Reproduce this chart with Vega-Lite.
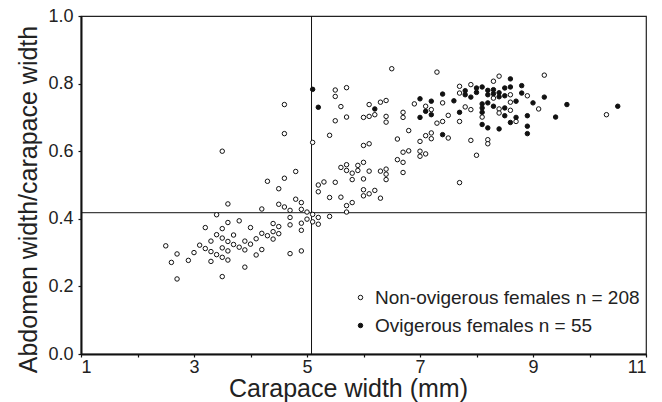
{
  "$schema": "https://vega.github.io/schema/vega-lite/v6.json",
  "width": 565,
  "height": 338,
  "autosize": {"type": "none"},
  "padding": {"left": 81, "top": 16, "right": 16, "bottom": 48},
  "background": "white",
  "config": {
    "font": "Liberation Sans",
    "view": {"stroke": "#222", "strokeWidth": 1.2},
    "axis": {
      "domainColor": "#111", "domainWidth": 2, "tickColor": "#111", "tickWidth": 1.2, "tickSize": 3,
      "labelColor": "#222", "labelFontSize": 18, "titleColor": "#222", "titleFontSize": 25,
      "titleFontWeight": "normal", "grid": false
    }
  },
  "datasets": {
    "pts": [
      {"cw":2.5,"r":0.320,"g":"N"},{"cw":2.6,"r":0.271,"g":"N"},{"cw":2.7,"r":0.296,"g":"N"},{"cw":2.7,"r":0.222,"g":"N"},
      {"cw":2.9,"r":0.277,"g":"N"},{"cw":3.0,"r":0.300,"g":"N"},{"cw":3.1,"r":0.322,"g":"N"},{"cw":3.2,"r":0.374,"g":"N"},
      {"cw":3.2,"r":0.312,"g":"N"},{"cw":3.3,"r":0.334,"g":"N"},{"cw":3.3,"r":0.303,"g":"N"},{"cw":3.3,"r":0.274,"g":"N"},
      {"cw":3.4,"r":0.412,"g":"N"},{"cw":3.4,"r":0.353,"g":"N"},{"cw":3.4,"r":0.294,"g":"N"},{"cw":3.5,"r":0.371,"g":"N"},
      {"cw":3.5,"r":0.343,"g":"N"},{"cw":3.5,"r":0.314,"g":"N"},{"cw":3.5,"r":0.286,"g":"N"},{"cw":3.5,"r":0.229,"g":"N"},
      {"cw":3.6,"r":0.444,"g":"N"},{"cw":3.6,"r":0.389,"g":"N"},{"cw":3.6,"r":0.333,"g":"N"},{"cw":3.6,"r":0.305,"g":"N"},
      {"cw":3.6,"r":0.278,"g":"N"},{"cw":3.7,"r":0.352,"g":"N"},{"cw":3.7,"r":0.324,"g":"N"},{"cw":3.8,"r":0.394,"g":"N"},
      {"cw":3.8,"r":0.316,"g":"N"},{"cw":3.9,"r":0.334,"g":"N"},{"cw":3.9,"r":0.308,"g":"N"},{"cw":3.9,"r":0.257,"g":"N"},
      {"cw":4.0,"r":0.374,"g":"N"},{"cw":4.0,"r":0.325,"g":"N"},{"cw":4.1,"r":0.341,"g":"N"},{"cw":4.1,"r":0.293,"g":"N"},
      {"cw":4.2,"r":0.429,"g":"N"},{"cw":4.2,"r":0.357,"g":"N"},{"cw":4.2,"r":0.309,"g":"N"},{"cw":4.3,"r":0.511,"g":"N"},
      {"cw":4.3,"r":0.350,"g":"N"},{"cw":4.4,"r":0.386,"g":"N"},{"cw":4.4,"r":0.362,"g":"N"},{"cw":4.4,"r":0.340,"g":"N"},
      {"cw":4.5,"r":0.489,"g":"N"},{"cw":4.5,"r":0.443,"g":"N"},{"cw":4.5,"r":0.377,"g":"N"},{"cw":4.5,"r":0.356,"g":"N"},
      {"cw":4.6,"r":0.435,"g":"N"},{"cw":4.7,"r":0.425,"g":"N"},{"cw":4.7,"r":0.404,"g":"N"},{"cw":4.7,"r":0.382,"g":"N"},
      {"cw":4.7,"r":0.297,"g":"N"},{"cw":4.8,"r":0.458,"g":"N"},{"cw":4.9,"r":0.448,"g":"N"},{"cw":4.9,"r":0.428,"g":"N"},
      {"cw":4.9,"r":0.387,"g":"N"},{"cw":4.9,"r":0.366,"g":"N"},{"cw":4.9,"r":0.305,"g":"N"},{"cw":5.0,"r":0.420,"g":"N"},
      {"cw":5.0,"r":0.399,"g":"N"},{"cw":5.1,"r":0.413,"g":"N"},{"cw":5.1,"r":0.391,"g":"N"},{"cw":5.2,"r":0.404,"g":"N"},
      {"cw":5.2,"r":0.384,"g":"N"},{"cw":5.2,"r":0.500,"g":"N"},{"cw":5.2,"r":0.480,"g":"N"},{"cw":5.3,"r":0.509,"g":"N"},
      {"cw":5.4,"r":0.463,"g":"N"},{"cw":5.4,"r":0.407,"g":"N"},{"cw":5.5,"r":0.508,"g":"N"},{"cw":5.6,"r":0.464,"g":"N"},
      {"cw":5.7,"r":0.439,"g":"N"},{"cw":5.7,"r":0.420,"g":"N"},{"cw":5.8,"r":0.448,"g":"N"},{"cw":5.8,"r":0.516,"g":"N"},
      {"cw":3.5,"r":0.600,"g":"N"},{"cw":4.6,"r":0.738,"g":"N"},{"cw":4.6,"r":0.652,"g":"N"},{"cw":5.5,"r":0.781,"g":"N"},
      {"cw":5.5,"r":0.762,"g":"N"},{"cw":5.7,"r":0.788,"g":"N"},{"cw":5.6,"r":0.732,"g":"N"},{"cw":5.7,"r":0.701,"g":"N"},
      {"cw":5.5,"r":0.690,"g":"N"},{"cw":5.4,"r":0.647,"g":"N"},{"cw":5.1,"r":0.626,"g":"N"},{"cw":4.6,"r":0.520,"g":"N"},
      {"cw":4.8,"r":0.540,"g":"N"},{"cw":5.6,"r":0.552,"g":"N"},{"cw":5.7,"r":0.560,"g":"N"},{"cw":5.7,"r":0.543,"g":"N"},
      {"cw":5.8,"r":0.535,"g":"N"},{"cw":5.9,"r":0.558,"g":"N"},{"cw":5.9,"r":0.543,"g":"N"},{"cw":6.1,"r":0.738,"g":"N"},
      {"cw":6.3,"r":0.745,"g":"N"},{"cw":6.4,"r":0.750,"g":"N"},{"cw":6.2,"r":0.708,"g":"N"},{"cw":6.1,"r":0.703,"g":"N"},
      {"cw":6.0,"r":0.700,"g":"N"},{"cw":6.4,"r":0.703,"g":"N"},{"cw":6.4,"r":0.686,"g":"N"},{"cw":6.7,"r":0.715,"g":"N"},
      {"cw":6.7,"r":0.700,"g":"N"},{"cw":6.8,"r":0.661,"g":"N"},{"cw":6.0,"r":0.617,"g":"N"},{"cw":6.1,"r":0.622,"g":"N"},
      {"cw":6.6,"r":0.636,"g":"N"},{"cw":6.7,"r":0.597,"g":"N"},{"cw":6.8,"r":0.601,"g":"N"},{"cw":6.6,"r":0.575,"g":"N"},
      {"cw":6.7,"r":0.567,"g":"N"},{"cw":6.7,"r":0.537,"g":"N"},{"cw":6.0,"r":0.567,"g":"N"},{"cw":6.1,"r":0.541,"g":"N"},
      {"cw":6.0,"r":0.518,"g":"N"},{"cw":6.3,"r":0.541,"g":"N"},{"cw":6.4,"r":0.547,"g":"N"},{"cw":6.4,"r":0.532,"g":"N"},
      {"cw":6.4,"r":0.516,"g":"N"},{"cw":6.0,"r":0.486,"g":"N"},{"cw":6.1,"r":0.474,"g":"N"},{"cw":6.2,"r":0.484,"g":"N"},
      {"cw":6.0,"r":0.468,"g":"N"},{"cw":6.3,"r":0.461,"g":"N"},{"cw":6.5,"r":0.844,"g":"N"},{"cw":6.9,"r":0.740,"g":"N"},
      {"cw":7.1,"r":0.733,"g":"N"},{"cw":7.2,"r":0.723,"g":"N"},{"cw":7.3,"r":0.834,"g":"N"},{"cw":7.4,"r":0.743,"g":"N"},
      {"cw":7.5,"r":0.706,"g":"N"},{"cw":7.4,"r":0.688,"g":"N"},{"cw":7.3,"r":0.683,"g":"N"},{"cw":7.1,"r":0.646,"g":"N"},
      {"cw":7.2,"r":0.654,"g":"N"},{"cw":7.2,"r":0.637,"g":"N"},{"cw":7.5,"r":0.639,"g":"N"},{"cw":7.0,"r":0.629,"g":"N"},
      {"cw":7.7,"r":0.792,"g":"N"},{"cw":7.7,"r":0.772,"g":"N"},{"cw":7.7,"r":0.688,"g":"N"},{"cw":7.8,"r":0.731,"g":"N"},
      {"cw":7.9,"r":0.797,"g":"N"},{"cw":7.9,"r":0.723,"g":"N"},{"cw":7.9,"r":0.632,"g":"N"},{"cw":8.1,"r":0.701,"g":"N"},
      {"cw":8.2,"r":0.634,"g":"N"},{"cw":8.2,"r":0.622,"g":"N"},{"cw":8.3,"r":0.807,"g":"N"},{"cw":8.3,"r":0.757,"g":"N"},
      {"cw":8.4,"r":0.822,"g":"N"},{"cw":8.4,"r":0.725,"g":"N"},{"cw":8.4,"r":0.713,"g":"N"},{"cw":9.2,"r":0.825,"g":"N"},
      {"cw":8.6,"r":0.767,"g":"N"},{"cw":8.9,"r":0.764,"g":"N"},{"cw":8.6,"r":0.745,"g":"N"},{"cw":8.6,"r":0.721,"g":"N"},
      {"cw":9.1,"r":0.725,"g":"N"},{"cw":8.7,"r":0.688,"g":"N"},{"cw":7.0,"r":0.600,"g":"N"},{"cw":7.0,"r":0.585,"g":"N"},
      {"cw":7.1,"r":0.592,"g":"N"},{"cw":8.0,"r":0.588,"g":"N"},{"cw":7.7,"r":0.507,"g":"N"},{"cw":10.3,"r":0.708,"g":"N"},
      {"cw":5.1,"r":0.783,"g":"O"},{"cw":5.2,"r":0.730,"g":"O"},{"cw":6.2,"r":0.725,"g":"O"},{"cw":7.0,"r":0.755,"g":"O"},
      {"cw":7.0,"r":0.700,"g":"O"},{"cw":7.1,"r":0.718,"g":"O"},{"cw":7.2,"r":0.748,"g":"O"},{"cw":7.2,"r":0.708,"g":"O"},
      {"cw":7.4,"r":0.769,"g":"O"},{"cw":7.4,"r":0.649,"g":"O"},{"cw":7.6,"r":0.749,"g":"O"},{"cw":7.7,"r":0.715,"g":"O"},
      {"cw":7.8,"r":0.779,"g":"O"},{"cw":7.8,"r":0.767,"g":"O"},{"cw":7.9,"r":0.760,"g":"O"},{"cw":8.0,"r":0.787,"g":"O"},
      {"cw":8.0,"r":0.774,"g":"O"},{"cw":8.1,"r":0.790,"g":"O"},{"cw":8.1,"r":0.740,"g":"O"},{"cw":8.1,"r":0.728,"g":"O"},
      {"cw":8.1,"r":0.715,"g":"O"},{"cw":8.1,"r":0.679,"g":"O"},{"cw":8.2,"r":0.780,"g":"O"},{"cw":8.2,"r":0.767,"g":"O"},
      {"cw":8.2,"r":0.743,"g":"O"},{"cw":8.2,"r":0.669,"g":"O"},{"cw":8.3,"r":0.782,"g":"O"},{"cw":8.3,"r":0.770,"g":"O"},
      {"cw":8.3,"r":0.733,"g":"O"},{"cw":8.4,"r":0.773,"g":"O"},{"cw":8.4,"r":0.761,"g":"O"},{"cw":8.4,"r":0.666,"g":"O"},
      {"cw":8.5,"r":0.787,"g":"O"},{"cw":8.5,"r":0.764,"g":"O"},{"cw":8.5,"r":0.728,"g":"O"},{"cw":8.5,"r":0.705,"g":"O"},
      {"cw":8.6,"r":0.814,"g":"O"},{"cw":8.6,"r":0.790,"g":"O"},{"cw":8.6,"r":0.685,"g":"O"},{"cw":8.7,"r":0.748,"g":"O"},
      {"cw":8.7,"r":0.700,"g":"O"},{"cw":8.8,"r":0.794,"g":"O"},{"cw":8.8,"r":0.772,"g":"O"},{"cw":8.9,"r":0.705,"g":"O"},
      {"cw":8.9,"r":0.674,"g":"O"},{"cw":8.9,"r":0.652,"g":"O"},{"cw":9.0,"r":0.743,"g":"O"},{"cw":9.2,"r":0.760,"g":"O"},
      {"cw":9.4,"r":0.701,"g":"O"},{"cw":9.6,"r":0.738,"g":"O"},{"cw":10.5,"r":0.733,"g":"O"}
    ],
    "vline": [{"x": 5.08}],
    "hline": [{"y": 0.418}]
  },
  "layer": [
    {
      "data": {"name": "vline"},
      "mark": {"type": "rule", "color": "#111", "strokeWidth": 1},
      "encoding": {"x": {"field": "x", "type": "quantitative", "scale": {"domain": [1, 11]}}}
    },
    {
      "data": {"name": "hline"},
      "mark": {"type": "rule", "color": "#111", "strokeWidth": 1},
      "encoding": {"y": {"field": "y", "type": "quantitative", "scale": {"domain": [0, 1]}}}
    },
    {
      "data": {"name": "pts"},
      "mark": {"type": "point", "shape": "circle", "size": 20, "stroke": "#111", "strokeWidth": 1, "opacity": 1, "fillOpacity": 1},
      "encoding": {
        "x": {
          "field": "cw", "type": "quantitative",
          "scale": {"domain": [1, 11], "nice": false, "zero": false},
          "axis": {
            "title": "Carapace width (mm)", "values": [1,2,3,4,5,6,7,8,9,10,11],
            "labelExpr": "datum.value % 2 == 1 ? format(datum.value, 'd') : ''",
            "labelPadding": 1, "titleBaseline": "alphabetic", "titleX": 267, "titleY": 42
          }
        },
        "y": {
          "field": "r", "type": "quantitative",
          "scale": {"domain": [0, 1], "nice": false},
          "axis": {
            "title": "Abdomen width/carapace width",
            "values": [0,0.1,0.2,0.3,0.4,0.5,0.6,0.7,0.8,0.9,1.0],
            "labelExpr": "round(datum.value*10) % 2 == 0 ? format(datum.value, '.1f') : ''",
            "labelPadding": 5, "titlePadding": 6, "titleY": 183
          }
        },
        "fill": {
          "field": "g", "type": "nominal",
          "scale": {"domain": ["N", "O"], "range": ["white", "#111"]},
          "legend": {
            "title": null, "orient": "none", "legendX": 270, "legendY": 272,
            "labelExpr": "datum.value == 'N' ? 'Non-ovigerous females n = 208' : 'Ovigerous females n = 55'",
            "labelFontSize": 19, "labelColor": "#222", "labelLimit": 0, "symbolType": "circle", "symbolSize": 20,
            "symbolStrokeColor": "#111", "symbolStrokeWidth": 1, "rowPadding": 8, "labelOffset": 5
          }
        }
      }
    }
  ]
}
